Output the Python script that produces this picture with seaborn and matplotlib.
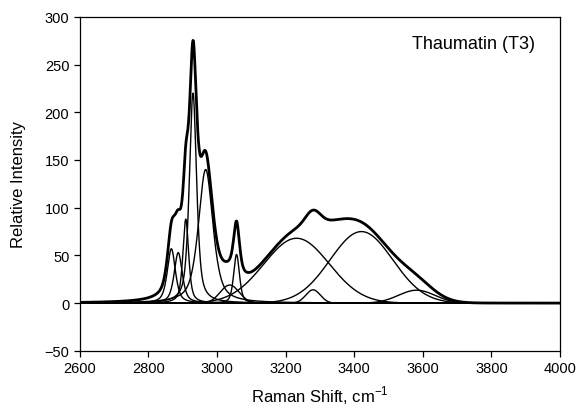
import numpy as np
import pandas as pd
import matplotlib
matplotlib.use("Agg")
import matplotlib.pyplot as plt
import seaborn as sns

# Fitted band parameters
peak_center = [2867, 2887, 2909, 2930, 2967, 3037, 3057, 3232, 3280, 3421, 3582]
peak_height = [57, 53, 88, 220, 140, 19, 51, 68, 14, 75, 13.6]
peak_fwhm = [28, 28, 20, 25, 50, 65, 20, 224, 50, 215, 125]
peak_lorentz = [0.6, 0.6, 0.6, 0.6, 0.6, 0.0, 0.5, 0.0, 0.0, 0.0, 0.0]

x_ticks = [2600, 2800, 3000, 3200, 3400, 3600, 3800, 4000]
y_ticks = [-50, 0, 50, 100, 150, 200, 250, 300]
title_text = "Thaumatin (T3)"
x_label = "Raman Shift, cm$^{-1}$"
y_label = "Relative Intensity"

sns.set_style("ticks")
plt.rcParams["font.family"] = ["Liberation Sans", "DejaVu Sans"]
plt.rcParams["mathtext.fontset"] = "custom"
plt.rcParams["mathtext.rm"] = "Liberation Sans"
plt.rcParams["text.color"] = "black"
plt.rcParams["axes.labelcolor"] = "black"

shift = np.arange(2600, 4000.5, 1.0)


def band(c, h, w, eta):
    g = np.exp(-4 * np.log(2) * (shift - c) ** 2 / w ** 2)
    lo = 1.0 / (1.0 + 4 * (shift - c) ** 2 / w ** 2)
    return h * (eta * lo + (1 - eta) * g)


frames = []
for i, (c, h, w, e) in enumerate(zip(peak_center, peak_height, peak_fwhm, peak_lorentz)):
    frames.append(pd.DataFrame({"shift": shift, "intensity": band(c, h, w, e), "band": f"b{i}"}))
components = pd.concat(frames, ignore_index=True)
spectrum = components.groupby("shift", as_index=False)["intensity"].sum()

fig = plt.figure(figsize=(5.78, 4.14), dpi=100)
ax = fig.add_axes([0.138, 0.150, 0.831, 0.807])

for name, grp in components.groupby("band"):
    sns.lineplot(data=grp, x="shift", y="intensity", ax=ax, color="black",
                 lw=1.0, legend=False, estimator=None)
sns.lineplot(data=spectrum, x="shift", y="intensity", ax=ax, color="black",
             lw=2.0, legend=False, estimator=None)

ax.set_xlim(2600, 4000)
ax.set_ylim(-50, 300)
ax.set_xticks(x_ticks)
ax.set_yticks(y_ticks)
ax.tick_params(direction="out", length=4, width=0.9, labelsize=10.5, colors="black",
               top=False, right=False)
for s in ax.spines.values():
    s.set_visible(True)
    s.set_linewidth(0.9)
    s.set_color("black")
ax.set_xlabel(x_label, fontsize=12, labelpad=6)
ax.set_ylabel(y_label, fontsize=12, labelpad=13)
ax.text(0.948, 0.919, title_text, transform=ax.transAxes, ha="right", va="center",
        fontsize=13, color="black")

fig.savefig("out.png", dpi=100)
